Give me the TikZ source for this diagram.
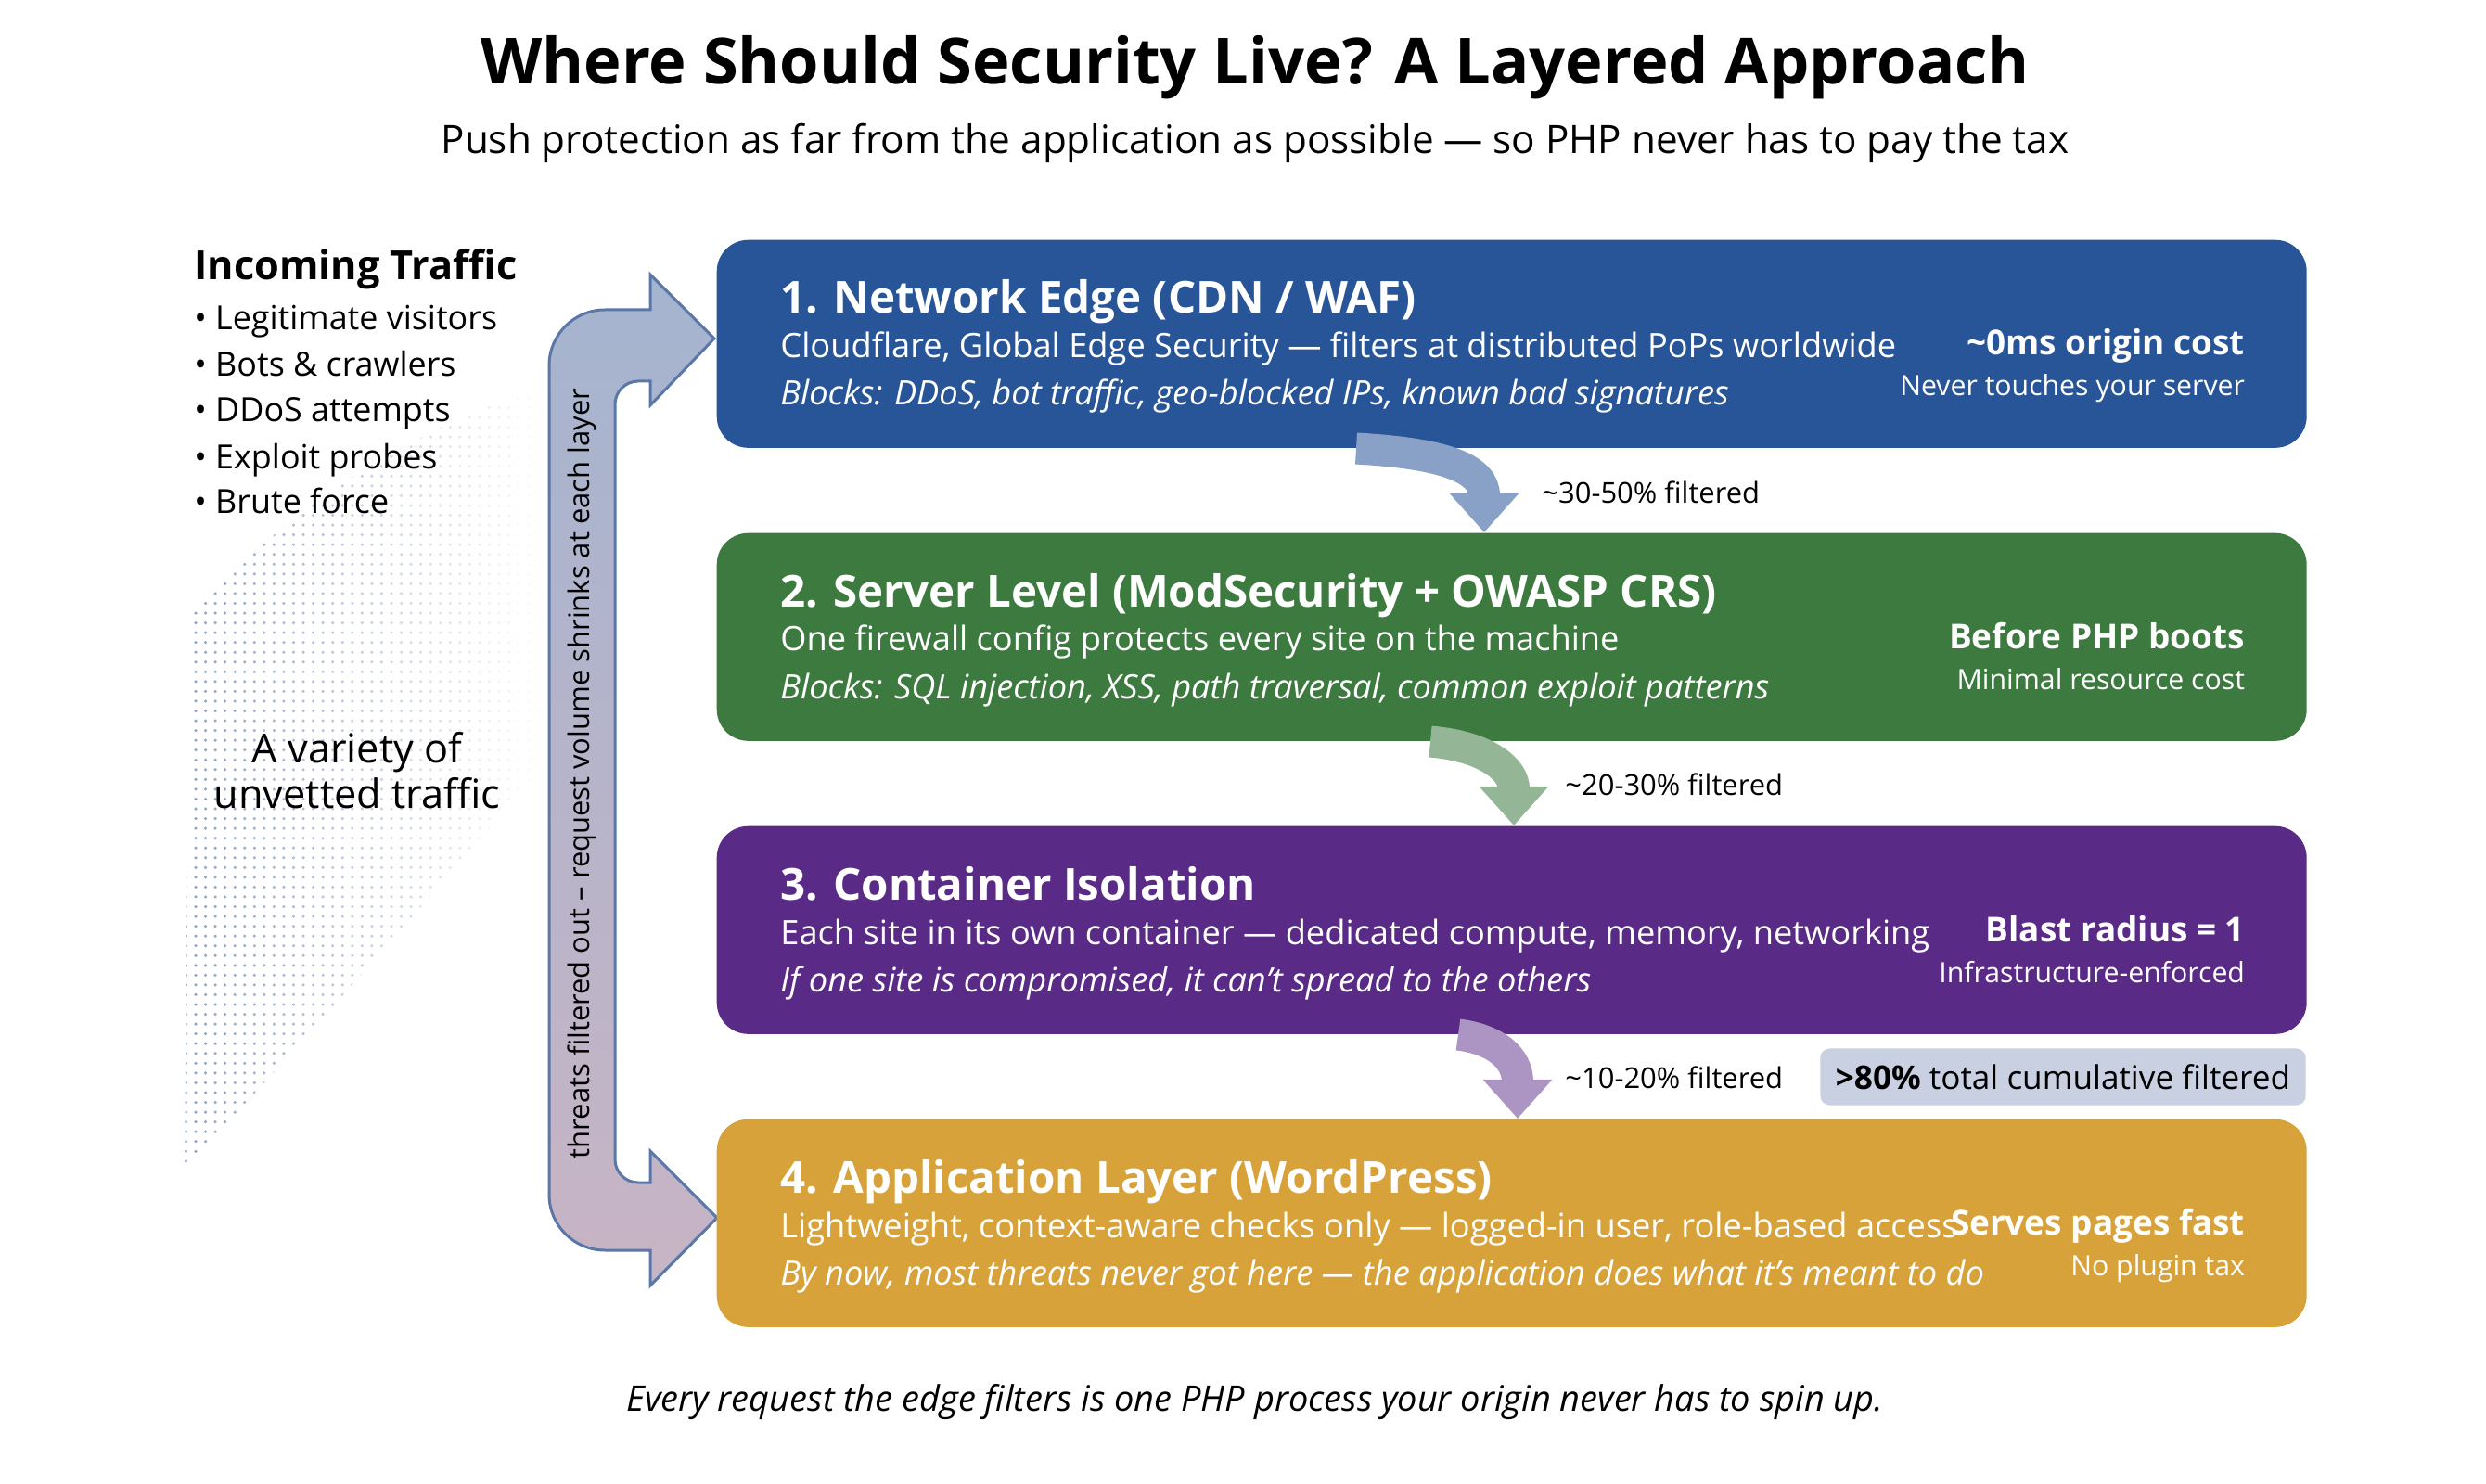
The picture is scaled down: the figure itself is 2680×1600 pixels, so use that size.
\documentclass[tikz,border=0pt]{standalone}
\usepackage{fontspec}
\setmainfont{Open Sans}
\usetikzlibrary{arrows.meta,calc,patterns,fadings}

\definecolor{edgeblue}{HTML}{285597}
\definecolor{servgreen}{HTML}{3D7A40}
\definecolor{contpurple}{HTML}{5A2B86}
\definecolor{appgold}{HTML}{D8A23A}
\definecolor{shaftline}{HTML}{5B77A8}
\definecolor{totalbg}{HTML}{C8D0E2}

\tikzset{
	layer/.style={rounded corners=0.34cm, minimum width=17.13cm, minimum height=2.24cm, inner sep=0pt},
	ltitle/.style={anchor=base west, text=white, font=\fontsize{13.5}{16}\selectfont\bfseries},
	lmain/.style={anchor=base west, text=white, font=\fontsize{10.3}{12}\selectfont},
	lital/.style={anchor=base west, text=white, font=\fontsize{10.3}{12}\selectfont\itshape},
	rbold/.style={anchor=base east, text=white, font=\fontsize{10.5}{12}\selectfont\bfseries},
	rsmall/.style={anchor=base east, text=white, font=\fontsize{8.6}{10}\selectfont},
	pct/.style={anchor=west, font=\fontsize{8.8}{10}\selectfont},
	flow/.style={line width=0.34cm, -{Triangle[width=0.72cm, length=0.42cm]}},
	bullet/.style={anchor=base west, font=\fontsize{10.2}{12}\selectfont},
}

\begin{document}
\begin{tikzpicture}[x=0.01cm, y=-0.01cm]
	\useasboundingbox (0,0) rectangle (2680,1600);

	% title
	\node (title) at (1353,73) {\fontsize{19.5}{22}\selectfont\bfseries Where Should Security Live? A Layered Approach};
	\node (sub) at (1353,154) {\fontsize{12}{14}\selectfont Push protection as far from the application as possible --- so PHP never has to pay the tax};

	% incoming traffic fan
	\path[pattern=dots, pattern color=shaftline!70, path fading=east]
		(592,414) .. controls (420,470) and (300,560) .. (204,663)
		-- (199,1260) .. controls (330,1120) and (480,950) .. (592,816) -- cycle;
	\node (intitle) [anchor=base west] at (197,302) {\fontsize{12.3}{14}\selectfont\bfseries Incoming Traffic};
	\node (b1) [bullet] at (197,356) {• Legitimate visitors};
	\node (b2) [bullet] at (197,406) {• Bots \& crawlers};
	\node (b3) [bullet] at (197,455) {• DDoS attempts};
	\node (b4) [bullet] at (197,505) {• Exploit probes};
	\node (b5) [bullet] at (197,554) {• Brute force};
	\node (variety) [align=center, font=\fontsize{12.3}{14}\selectfont] at (385,831) {A variety of\\unvetted traffic};

	% U-shaped side arrow
	\shade[top color=shaftline!55, bottom color=red!25!shaftline!45, draw=shaftline, line width=0.03cm]
		(770,365) -- (701,296) -- (701,334)
		[rounded corners=0.6cm] -- (592,334) -- (592,1348) [sharp corners] -- (701,1348) -- (701,1386)
		-- (773,1313) -- (701,1241) -- (701,1275)
		[rounded corners=0.25cm] -- (663,1275) -- (663,411) [sharp corners] -- (701,411) -- (701,437) -- cycle;
	\node (shafttext) [rotate=90, font=\fontsize{8.8}{10}\selectfont] at (627,834) {threats filtered out -- request volume shrinks at each layer};

	% layers
	\node (l1) [layer, fill=edgeblue, anchor=north west] at (772,258) {};
	\node (l2) [layer, fill=servgreen, anchor=north west] at (772,574) {};
	\node (l3) [layer, fill=contpurple, anchor=north west] at (772,890) {};
	\node (l4) [layer, fill=appgold, anchor=north west] at (772,1206) {};

	\node [ltitle] at ($(l1.north west)+(57,80)$) {1. Network Edge (CDN / WAF)};
	\node [lmain] at ($(l1.north west)+(57,128)$) {Cloudflare, Global Edge Security --- filters at distributed PoPs worldwide};
	\node [lital] at ($(l1.north west)+(57,179)$) {Blocks: DDoS, bot traffic, geo-blocked IPs, known bad signatures};
	\node [rbold] at ($(l1.north east)+(-55,125)$) {\textasciitilde 0ms origin cost};
	\node [rsmall] at ($(l1.north east)+(-55,169)$) {Never touches your server};

	\node [ltitle] at ($(l2.north west)+(57,80)$) {2. Server Level (ModSecurity + OWASP CRS)};
	\node [lmain] at ($(l2.north west)+(57,128)$) {One firewall config protects every site on the machine};
	\node [lital] at ($(l2.north west)+(57,179)$) {Blocks: SQL injection, XSS, path traversal, common exploit patterns};
	\node [rbold] at ($(l2.north east)+(-55,125)$) {Before PHP boots};
	\node [rsmall] at ($(l2.north east)+(-55,169)$) {Minimal resource cost};

	\node [ltitle] at ($(l3.north west)+(57,80)$) {3. Container Isolation};
	\node [lmain] at ($(l3.north west)+(57,128)$) {Each site in its own container --- dedicated compute, memory, networking};
	\node [lital] at ($(l3.north west)+(57,179)$) {If one site is compromised, it can’t spread to the others};
	\node [rbold] at ($(l3.north east)+(-55,125)$) {Blast radius = 1};
	\node [rsmall] at ($(l3.north east)+(-55,169)$) {Infrastructure-enforced};

	\node [ltitle] at ($(l4.north west)+(57,80)$) {4. Application Layer (WordPress)};
	\node [lmain] at ($(l4.north west)+(57,128)$) {Lightweight, context-aware checks only --- logged-in user, role-based access};
	\node [lital] at ($(l4.north west)+(57,179)$) {By now, most threats never got here --- the application does what it’s meant to do};
	\node [rbold] at ($(l4.north east)+(-55,125)$) {Serves pages fast};
	\node [rsmall] at ($(l4.north east)+(-55,169)$) {No plugin tax};

	% filtered arrows between layers
	\draw[flow, draw=edgeblue!55] ($(l1.south west)+(690,0)$) .. controls ($(l1.south west)+(780,5)$) and ($(l1.south west)+(828,20)$) .. ($(l2.north west)+(828,0)$);
	\draw[flow, draw=servgreen!55] ($(l2.south west)+(770,0)$) .. controls ($(l2.south west)+(830,5)$) and ($(l2.south west)+(860,30)$) .. ($(l3.north west)+(860,0)$);
	\draw[flow, draw=contpurple!50] ($(l3.south west)+(800,0)$) .. controls ($(l3.south west)+(840,5)$) and ($(l3.south west)+(864,25)$) .. ($(l4.north west)+(864,0)$);
	\node (p1) [pct] at (1650,531) {\textasciitilde 30-50\% filtered};
	\node (p2) [pct] at (1675,846) {\textasciitilde 20-30\% filtered};
	\node (p3) [pct] at (1675,1162) {\textasciitilde 10-20\% filtered};
	\node (total) [fill=totalbg, rounded corners=0.1cm, minimum width=5.23cm, minimum height=0.61cm, font=\fontsize{10}{12}\selectfont] at (2224,1161) {\textbf{>80\%} total cumulative filtered};

	% caption
	\node (caption) at (1353,1512) {\fontsize{10.8}{13}\selectfont\itshape Every request the edge filters is one PHP process your origin never has to spin up.};
\end{tikzpicture}
\end{document}
